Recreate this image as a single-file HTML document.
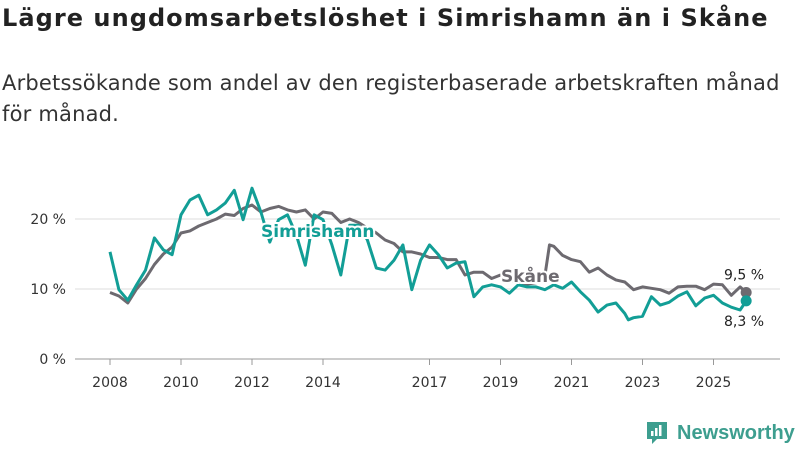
<!DOCTYPE html>
<html><head><meta charset="utf-8">
<style>
body{margin:0;width:800px;height:450px;background:#fff;font-family:"DejaVu Sans","Liberation Sans",sans-serif;color:#222;overflow:hidden;position:relative}
h1{position:absolute;left:2px;top:4px;margin:0;font-size:24px;font-weight:bold;color:#222;white-space:nowrap;letter-spacing:1.05px}
.sub{position:absolute;left:2px;top:68px;margin:0;font-size:21px;line-height:31px;color:#333;width:798px;white-space:nowrap;letter-spacing:0.2px}
svg{position:absolute;left:0;top:0}
</style></head><body>
<h1>Lägre ungdomsarbetslöshet i Simrishamn än i Skåne</h1>
<p class="sub">Arbetssökande som andel av den registerbaserade arbetskraften månad<br>för månad.</p>
<svg id="c" width="800" height="450"></svg>
<script>
const years=[2008,2010,2012,2014,2017,2019,2021,2023,2025];
const yTicks=[0,10,20];
const yTickLabels=["0 %","10 %","20 %"];
const skaneTimes=[2008,2008.25,2008.5,2008.75,2009,2009.25,2009.5,2009.75,2010,2010.25,2010.5,2010.75,2011,2011.25,2011.5,2011.75,2012,2012.25,2012.5,2012.75,2013,2013.25,2013.5,2013.75,2014,2014.25,2014.5,2014.75,2015,2015.25,2015.5,2015.75,2016,2016.25,2016.5,2016.75,2017,2017.25,2017.5,2017.75,2018,2018.25,2018.5,2018.75,2019,2019.25,2019.5,2019.75,2020,2020.25,2020.38,2020.5,2020.75,2021,2021.25,2021.5,2021.75,2022,2022.25,2022.5,2022.75,2023,2023.25,2023.5,2023.75,2024,2024.25,2024.5,2024.75,2025,2025.25,2025.5,2025.75,2025.92];
const skane=[9.5,9,8,10,11.5,13.5,15,16,18,18.3,19,19.5,20,20.7,20.5,21.5,22,21,21.5,21.8,21.3,21,21.3,20,21,20.8,19.5,20,19.5,18.7,18,17,16.5,15.3,15.3,15,14.5,14.5,14.2,14.2,12,12.4,12.4,11.5,12,11.3,11,10.7,10.9,11.9,16.3,16.1,14.8,14.2,13.9,12.4,13,12,11.3,11,9.9,10.3,10.1,9.9,9.4,10.3,10.4,10.4,9.9,10.7,10.6,9.1,10.3,9.5];
const simTimes=[2008,2008.25,2008.5,2008.75,2009,2009.25,2009.5,2009.75,2010,2010.25,2010.5,2010.75,2011,2011.25,2011.5,2011.75,2012,2012.25,2012.5,2012.75,2013,2013.25,2013.5,2013.75,2014,2014.25,2014.5,2014.75,2015,2015.25,2015.5,2015.75,2016,2016.25,2016.5,2016.75,2017,2017.25,2017.5,2017.75,2018,2018.25,2018.5,2018.75,2019,2019.25,2019.5,2019.75,2020,2020.25,2020.5,2020.75,2021,2021.25,2021.5,2021.75,2022,2022.25,2022.5,2022.6,2022.75,2023,2023.25,2023.5,2023.75,2024,2024.25,2024.5,2024.75,2025,2025.25,2025.5,2025.75,2025.92];
const simrishamn=[15.3,9.9,8.4,10.6,12.7,17.3,15.6,14.9,20.6,22.7,23.4,20.6,21.3,22.3,24.1,19.9,24.4,21,16.7,19.9,20.6,17.7,13.4,20.6,19.9,16.3,12,19.1,19.1,17,13,12.7,14.1,16.3,9.9,14.1,16.3,14.9,13,13.7,13.9,8.9,10.3,10.6,10.3,9.4,10.6,10.3,10.3,9.9,10.6,10.1,11,9.6,8.4,6.7,7.7,8,6.5,5.6,5.9,6.1,8.9,7.7,8.1,9,9.6,7.6,8.7,9.1,8,7.4,7.0,8.3];
const x=t=>110+(t-2008)*35.5;
const y=v=>359-v*7;
const NS="http://www.w3.org/2000/svg";
const svg=document.getElementById('c');
function mk(tag,attrs){const e=document.createElementNS(NS,tag);for(const k in attrs)e.setAttribute(k,attrs[k]);svg.appendChild(e);return e;}
yTicks.forEach((v,i)=>{
  const g=mk('line',{x1:75,x2:780,y1:y(v),y2:y(v),stroke:v===0?'#999':'#ddd','stroke-width':1});
  
  
  const t=mk('text',{x:66,y:y(v)+5,'text-anchor':'end','font-size':14,fill:'#333'});
  t.textContent=yTickLabels[i];
  
  
});
years.forEach(yr=>{
  const l=mk('line',{x1:x(yr),x2:x(yr),y1:359,y2:365,stroke:'#999'});
  
  
  const t=mk('text',{x:x(yr),y:387,'text-anchor':'middle','font-size':14,fill:'#333'});
  t.textContent=yr;
  
  
});
function line(times,arr,col,name){
  const d=arr.map((v,i)=>(i?'L':'M')+x(times[i]).toFixed(1)+','+y(v).toFixed(1)).join('');
  const p=mk('path',{d:d,fill:'none',stroke:col,'stroke-width':3,'stroke-linejoin':'round'});
  
  
  const n=arr.length-1;
  const c=mk('circle',{cx:x(times[n]),cy:y(arr[n]),r:5.5,fill:col});
  
  
}
line(skaneTimes,skane,'#6d6a70','skane-line');
line(simTimes,simrishamn,'#129e96','simrishamn-line');
function lbl(tx,xx,yy,col,fs,w,name){
  const t=mk('text',{x:xx,y:yy,'font-size':fs,'font-weight':w,fill:col,stroke:'#fff','stroke-width':4,'paint-order':'stroke'});
  t.textContent=tx;
  
  
}
lbl('Simrishamn',261,237,'#129e96',17,'bold','simrishamn-label');
lbl('Skåne',501,282,'#6d6a70',17,'bold','skane-label');
const ns=skane.length-1, nm=simrishamn.length-1;
lbl(String(skane[ns]).replace('.',',')+' %',724,y(skane[ns])-13,'#222',14,'normal','skane-end-value');
lbl(String(simrishamn[nm]).replace('.',',')+' %',724,y(simrishamn[nm])+25,'#222',14,'normal','simrishamn-end-value');
</script>
<div style="position:absolute;left:645px;top:420px;display:flex;align-items:center">
<svg width="24" height="26" viewBox="0 0 24 26" style="position:static"><path d="M2 2h20v17h-10l-5 5v-5H2z" fill="#3d9e8f"/><rect x="6" y="11" width="2.5" height="5" fill="#fff"/><rect x="10" y="8" width="2.5" height="8" fill="#fff"/><rect x="14" y="5" width="2.5" height="11" fill="#fff"/></svg>
<span style="margin-left:8px;font-size:20px;color:#3d9e8f;font-weight:bold;font-family:'Liberation Sans',sans-serif">Newsworthy</span></div>
</body></html>
